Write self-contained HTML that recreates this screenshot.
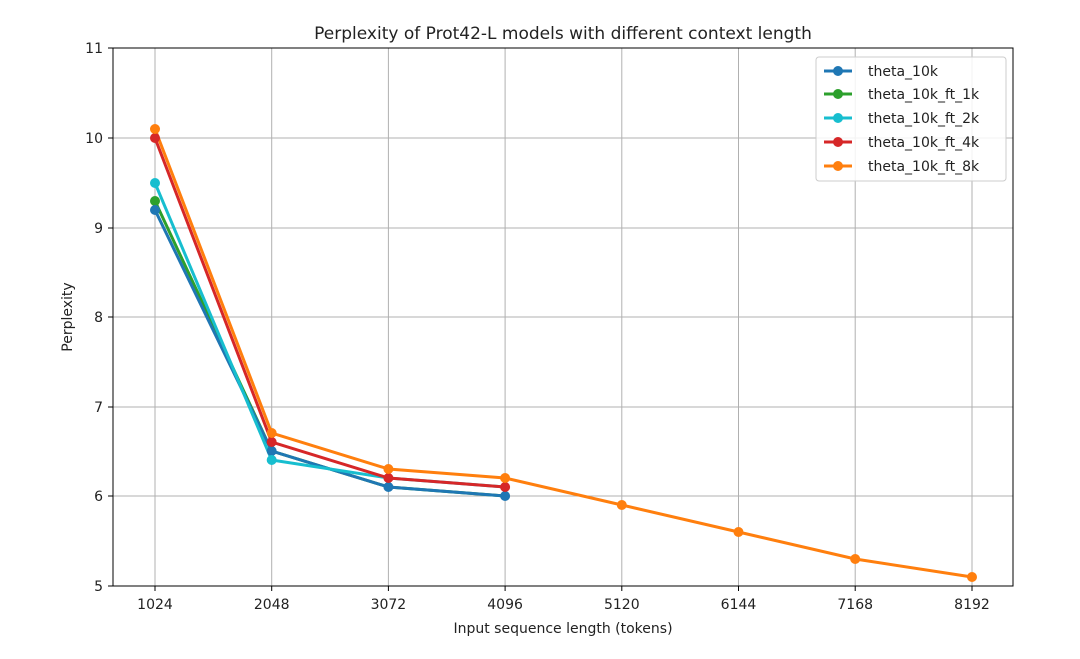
<!DOCTYPE html>
<html><head><meta charset="utf-8"><style>body{margin:0;background:#fff}svg{display:block;font-family:"DejaVu Sans","Liberation Sans",sans-serif}</style></head><body>
<svg width="1080" height="659" xmlns="http://www.w3.org/2000/svg">
<rect width="1080" height="659" fill="#fff"/>
<g stroke="#b0b0b0" stroke-width="1">
<line x1="155" y1="48" x2="155" y2="586"/><line x1="271.7" y1="48" x2="271.7" y2="586"/><line x1="388.4" y1="48" x2="388.4" y2="586"/><line x1="505.1" y1="48" x2="505.1" y2="586"/><line x1="621.8" y1="48" x2="621.8" y2="586"/><line x1="738.5" y1="48" x2="738.5" y2="586"/><line x1="855.2" y1="48" x2="855.2" y2="586"/><line x1="972" y1="48" x2="972" y2="586"/>
<line x1="113" y1="138" x2="1013" y2="138"/><line x1="113" y1="228" x2="1013" y2="228"/><line x1="113" y1="317" x2="1013" y2="317"/><line x1="113" y1="407" x2="1013" y2="407"/><line x1="113" y1="496" x2="1013" y2="496"/>
</g>
<rect x="113" y="48" width="900" height="538" fill="none" stroke="#000" stroke-width="1"/>
<g stroke="#000"><line x1="108" y1="48" x2="113" y2="48"/><line x1="108" y1="138" x2="113" y2="138"/><line x1="108" y1="228" x2="113" y2="228"/><line x1="108" y1="317" x2="113" y2="317"/><line x1="108" y1="407" x2="113" y2="407"/><line x1="108" y1="496" x2="113" y2="496"/><line x1="108" y1="586" x2="113" y2="586"/>
<line x1="155" y1="586" x2="155" y2="591"/><line x1="271.7" y1="586" x2="271.7" y2="591"/><line x1="388.4" y1="586" x2="388.4" y2="591"/><line x1="505.1" y1="586" x2="505.1" y2="591"/><line x1="621.8" y1="586" x2="621.8" y2="591"/><line x1="738.5" y1="586" x2="738.5" y2="591"/><line x1="855.2" y1="586" x2="855.2" y2="591"/><line x1="972" y1="586" x2="972" y2="591"/></g>
<g font-size="14" fill="#222" text-anchor="end"><text x="103" y="53">11</text><text x="103" y="143">10</text><text x="103" y="233">9</text><text x="103" y="322">8</text><text x="103" y="412">7</text><text x="103" y="501">6</text><text x="103" y="591">5</text></g>
<g font-size="14" fill="#222" text-anchor="middle"><text x="155" y="609">1024</text><text x="271.7" y="609">2048</text><text x="388.4" y="609">3072</text><text x="505.1" y="609">4096</text><text x="621.8" y="609">5120</text><text x="738.5" y="609">6144</text><text x="855.2" y="609">7168</text><text x="972" y="609">8192</text>
<text x="563" y="633">Input sequence length (tokens)</text>
<text x="563" y="39" font-size="17">Perplexity of Prot42-L models with different context length</text>
<text transform="translate(72,317) rotate(-90)">Perplexity</text></g>
<g fill="none" stroke-width="3">
<polyline stroke="#2ca02c" points="155,201 271.7,451 388.4,487 505.1,496"/>
<polyline stroke="#1f77b4" points="155,210 271.7,451 388.4,487 505.1,496"/>
<polyline stroke="#17becf" points="155,183 271.7,460 388.4,478 505.1,487"/>
<polyline stroke="#d62728" points="155,138 271.7,442 388.4,478 505.1,487"/>
<polyline stroke="#ff7f0e" points="155,129 271.7,433 388.4,469 505.1,478 621.8,505 738.5,532 855.2,559 972,577"/>
</g>
<g fill="#2ca02c"><circle cx="155" cy="201" r="5"/></g>
<g fill="#1f77b4"><circle cx="155" cy="210" r="5"/><circle cx="271.7" cy="451" r="5"/><circle cx="388.4" cy="487" r="5"/><circle cx="505.1" cy="496" r="5"/></g>
<g fill="#17becf"><circle cx="155" cy="183" r="5"/><circle cx="271.7" cy="460" r="5"/></g>
<g fill="#d62728"><circle cx="155" cy="138" r="5"/><circle cx="271.7" cy="442" r="5"/><circle cx="388.4" cy="478" r="5"/><circle cx="505.1" cy="487" r="5"/></g>
<g fill="#ff7f0e"><circle cx="155" cy="129" r="5"/><circle cx="271.7" cy="433" r="5"/><circle cx="388.4" cy="469" r="5"/><circle cx="505.1" cy="478" r="5"/><circle cx="621.8" cy="505" r="5"/><circle cx="738.5" cy="532" r="5"/><circle cx="855.2" cy="559" r="5"/><circle cx="972" cy="577" r="5"/></g>
<rect x="816" y="57" width="190" height="124" rx="3" fill="#fff" fill-opacity="0.85" stroke="#ccc"/>
<g stroke-width="3"><line x1="824" y1="71" x2="852" y2="71" stroke="#1f77b4"/><line x1="824" y1="94" x2="852" y2="94" stroke="#2ca02c"/><line x1="824" y1="118" x2="852" y2="118" stroke="#17becf"/><line x1="824" y1="142" x2="852" y2="142" stroke="#d62728"/><line x1="824" y1="166" x2="852" y2="166" stroke="#ff7f0e"/></g>
<circle cx="838" cy="71" r="5" fill="#1f77b4"/><circle cx="838" cy="94" r="5" fill="#2ca02c"/><circle cx="838" cy="118" r="5" fill="#17becf"/><circle cx="838" cy="142" r="5" fill="#d62728"/><circle cx="838" cy="166" r="5" fill="#ff7f0e"/>
<g font-size="14" fill="#222"><text x="868" y="76">theta_10k</text><text x="868" y="99">theta_10k_ft_1k</text><text x="868" y="123">theta_10k_ft_2k</text><text x="868" y="147">theta_10k_ft_4k</text><text x="868" y="171">theta_10k_ft_8k</text></g>
</svg>
</body></html>
